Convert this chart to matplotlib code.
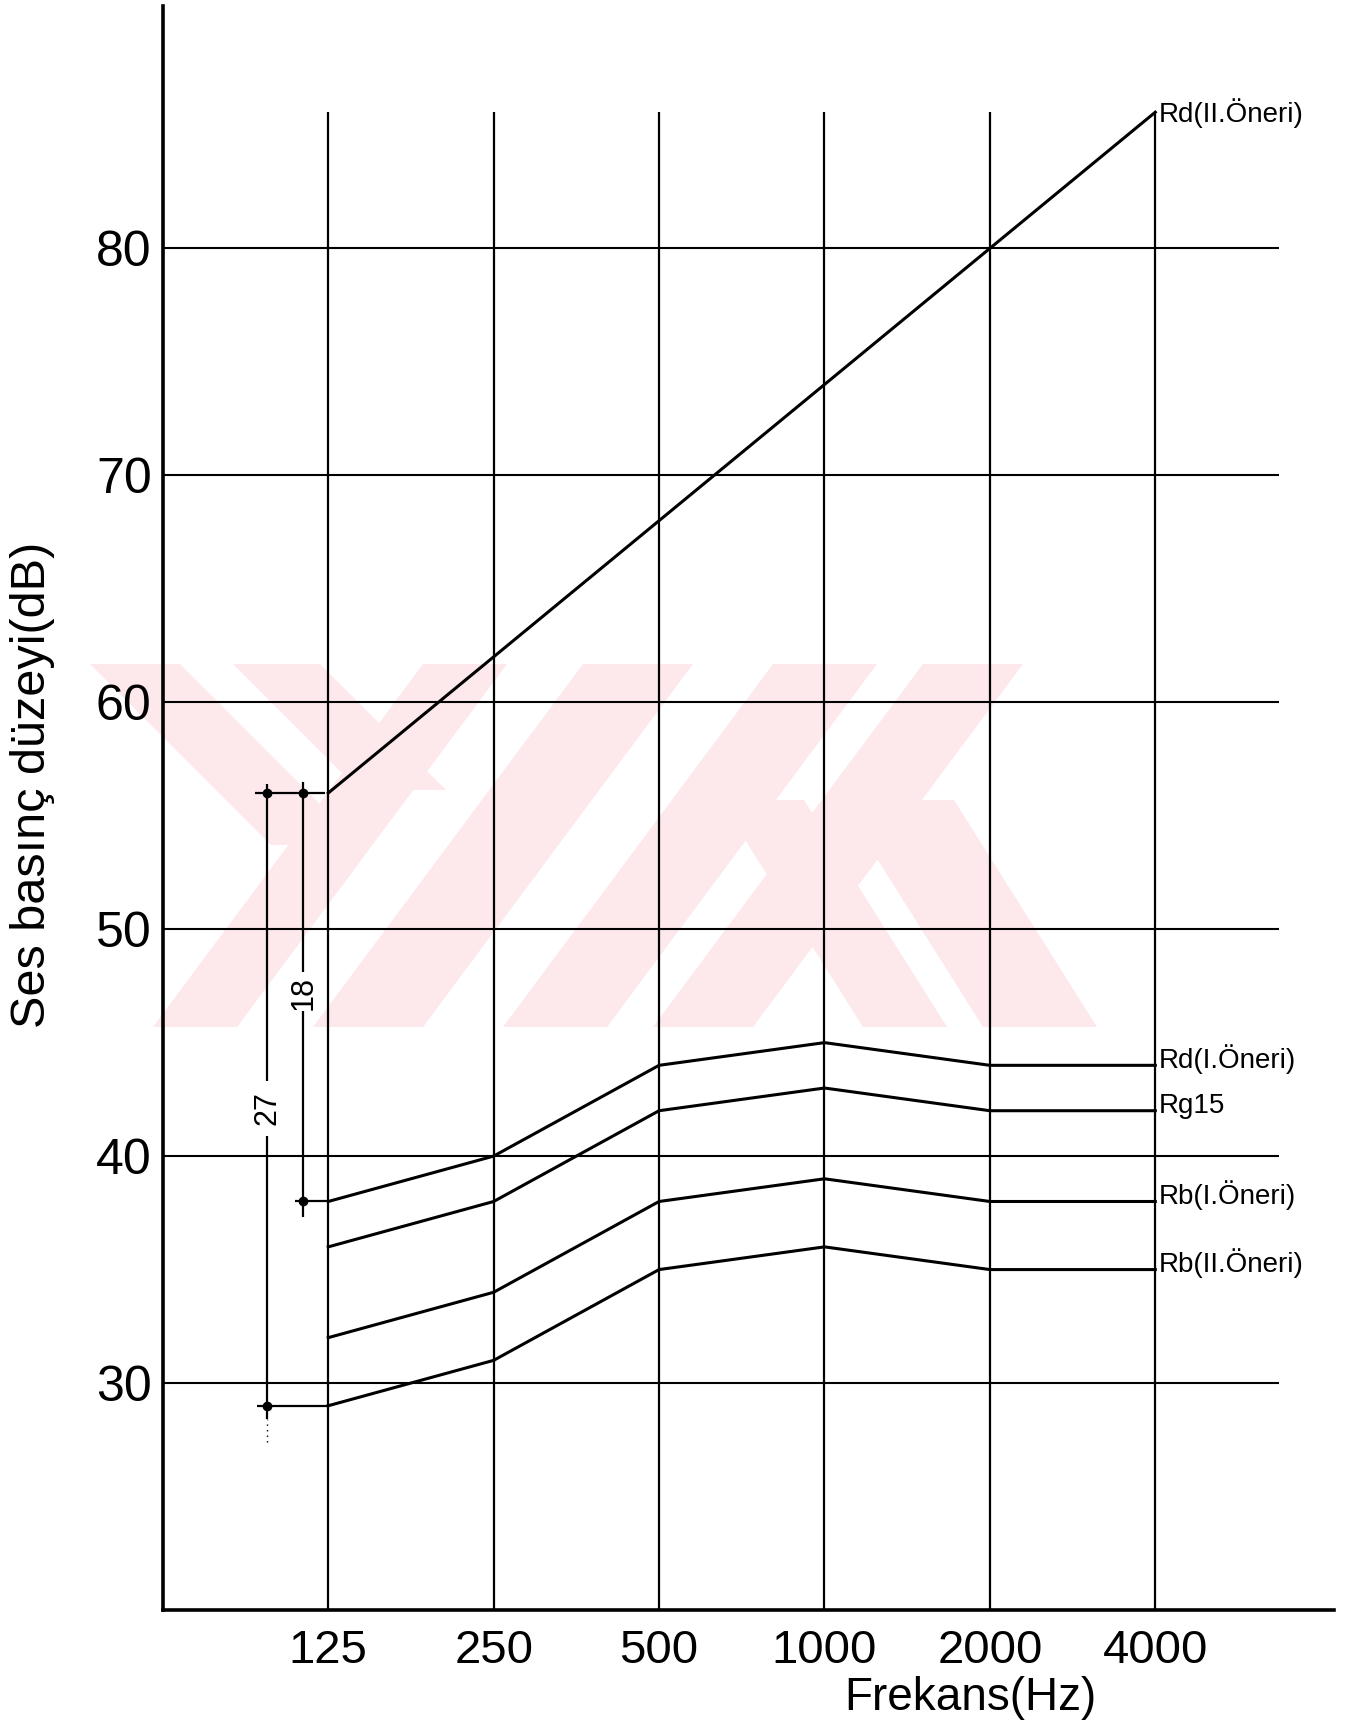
import matplotlib
matplotlib.use('Agg')
import matplotlib.pyplot as plt
from matplotlib.patches import Polygon

plt.rcParams['font.family'] = ['Liberation Sans', 'DejaVu Sans']

###############################################################################
# Data
###############################################################################
freqs = ['125', '250', '500', '1000', '2000', '4000']
rd_ii = [56, 62, 68, 74, 80, 86]
rd_i = [38, 40, 44, 45, 44, 44]
rg_15 = [36, 38, 42, 43, 42, 42]
rb_i = [32, 34, 38, 39, 38, 38]
rb_ii = [29, 31, 35, 36, 35, 35]
names = ['Rd(II.Öneri)', 'Rd(I.Öneri)', 'Rg15', 'Rb(I.Öneri)', 'Rb(II.Öneri)']
yticks = [30, 40, 50, 60, 70, 80]

W, H = 1357, 1728
fig = plt.figure(figsize=(W/100, H/100), dpi=100)
fig.patch.set_facecolor('white')

###############################################################################
# Watermark (pixel coords, y down)
###############################################################################
pink = '#fde8ec'
(y0, y1, sh) = (664, 1027, 270)
wm = [
    [(90, y0), (180, y0), (361, 845), (271, 845)],
    [(233, y0), (320, y0), (446, 790), (359, 790)],
]
for (a, b) in [(423, 507), (583, 693), (773, 877), (923, 1023)]:
    wm.append([(a, y0), (b, y0), (b - sh, y1), (a - sh, y1)])
for (a, b) in [(720, 804), (840, 954)]:
    wm.append([(a, 800), (b, 800), (b + 143, y1), (a + 143, y1)])
for pts in wm:
    fig.patches.append(Polygon([(x/W, 1 - y/H) for x, y in pts], closed=True,
                               transform=fig.transFigure, facecolor=pink,
                               edgecolor='none', zorder=-1))

###############################################################################
# Axes
###############################################################################
ax = fig.add_axes([0.120, 0.0683, 0.863, 0.9285])
ax.patch.set_alpha(0)
x = list(range(len(freqs)))
ax.set_xlim(-1.0, 6.08)
ax.set_ylim(20, 90.7)
for s in ['top', 'right']:
    ax.spines[s].set_visible(False)
for s in ['left', 'bottom']:
    ax.spines[s].set_linewidth(2.6)

ax.hlines(yticks, -1.0, 5.75, color='black', lw=1.5, zorder=1)
ax.vlines(x, 20, max(rd_ii), color='black', lw=1.6, zorder=1)

for name, vals in zip(names, [rd_ii, rd_i, rg_15, rb_i, rb_ii]):
    ax.plot(x, vals, color='black', lw=2.2, zorder=3)
    dy = -0.45 if name == 'Rd(II.Öneri)' else -0.1
    ax.text(x[-1] + 0.02, vals[-1] + dy, name, fontsize=20, ha='left',
            va='baseline')

ax.set_xticks(x)
ax.set_xticklabels(freqs, fontsize=34,
                   family=['Liberation Sans Narrow', 'Liberation Sans'])
ax.set_yticks(yticks)
ax.set_yticklabels([str(v) for v in yticks], fontsize=36)
ax.tick_params(axis='x', length=0, pad=14)
ax.tick_params(axis='y', length=0, pad=8)

###############################################################################
# Dimension lines 18 / 27
###############################################################################
x27, x18 = -0.37, -0.15
top, low18, low27 = rd_ii[0], rd_i[0], rb_ii[0]
ax.hlines(top, -0.44, -0.02, color='black', lw=1.6)
ax.hlines(low18, -0.20, 0.0, color='black', lw=1.6)
ax.hlines(low27, -0.43, 0.0, color='black', lw=1.6)
ax.plot([x27, x18, x18, x27], [top, top, low18, low27], 'o', color='black',
        ms=6)
ax.vlines(x18, 48.1, top + 0.5, color='black', lw=1.6)
ax.vlines(x18, low18 - 0.7, 46.4, color='black', lw=1.6)
ax.vlines(x27, 43.3, top + 0.4, color='black', lw=1.6)
ax.vlines(x27, low27 - 0.6, 40.9, color='black', lw=1.6)
ax.vlines(x27, low27 - 1.6, low27 - 0.6, color='black', lw=1.0,
          linestyles=(0, (1, 3)))
ax.text(x18, 47.2, str(top - low18), rotation=90, fontsize=22, ha='center',
        va='center')
ax.text(x27, 42.1, str(top - low27), rotation=90, fontsize=22, ha='center',
        va='center')

###############################################################################
# Labels
###############################################################################
fig.text(0.024, 0.546, 'Ses basınç düzeyi(dB)', rotation=90, fontsize=35,
         ha='center', va='center')
fig.text(0.715, 0.0174, 'Frekans(Hz)', fontsize=33, ha='center',
         va='center')

fig.savefig('out.png', dpi=100, facecolor=fig.get_facecolor())
